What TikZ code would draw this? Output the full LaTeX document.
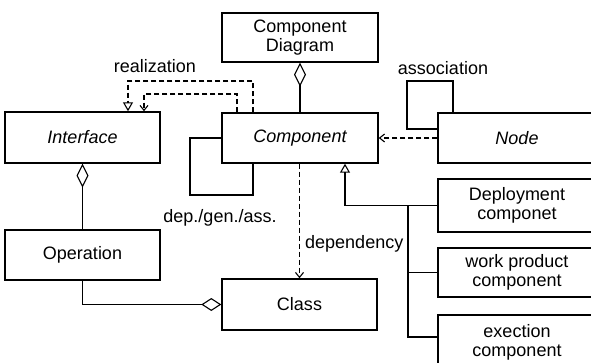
\documentclass[tikz,border=0pt]{standalone}
\usepackage{fontspec}
\setmainfont{Liberation Sans}
\usetikzlibrary{arrows.meta}
\tikzset{
  agg/.tip={Diamond[open,length=24pt,width=12pt,line width=1.1pt]},
  aggh/.tip={Diamond[open,length=20pt,width=13pt,line width=1.1pt]},
  gen/.tip={Triangle[open,length=9pt,width=10pt,line width=1.1pt]},
  barb/.tip={Straight Barb[length=5pt,width=8pt,line width=1.1pt]}
}
\begin{document}
\begin{tikzpicture}[x=1pt,y=-1pt,
  every node/.style={font=\fontsize{18}{19.5}\selectfont},
  box/.style={draw,line width=1.4pt,inner sep=0pt,align=center},
  conn/.style={line width=1.2pt},
  dep/.style={conn,dash pattern=on 5pt off 3pt},
  lbl/.style={inner sep=0pt}]
\clip (0,0) rectangle (591,363);

% classes
\node[box,minimum width=156pt,minimum height=49pt] (cd) at (300,37.5) {Component\\Diagram};
\node[box,minimum width=156pt,minimum height=50pt] (comp) at (300,138) {\itshape Component};
\node[box,minimum width=155pt,minimum height=51pt] (iface) at (82.5,137.5) {\itshape Interface};
\node[box,minimum width=155pt,minimum height=50pt] (oper) at (82.5,255) {Operation};
\node[box,minimum width=155pt,minimum height=51pt] (cls) at (299.5,304.5) {Class};
\node[box,minimum width=158pt,minimum height=50pt] (nd) at (517,138) {\itshape Node};
\node[box,minimum width=158pt,minimum height=53pt] (dp) at (517,205.5) {Deployment\\componet};
\node[box,minimum width=158pt,minimum height=49pt] (wp) at (517,272.5) {work product\\component};
\node[box,minimum width=158pt,minimum height=55pt] (ex) at (517,342.5) {exection\\component};

% aggregations
\draw[conn,agg-] (cd) -- (comp);
\draw[conn,agg-] (iface) -- (oper);
\draw[conn,-aggh] (oper.south) |- (cls.west);

% realization and dependency towards Interface
\draw[dep,-gen] (253,0 |- comp.north) -- (253,81) -- (128,81) -- (128,0 |- iface.north);
\draw[dep,-barb] (237,0 |- comp.north) -- (237,94) -- (144,94) -- (144,0 |- iface.north);
\node[lbl] (lreal) at (155,66) {realization};

% Node to Component
\draw[dep,-barb] (nd.west) -- (comp.east);
\draw[conn] (453,0 |- nd.north) -- (453,81) -- (407,81) -- (407,129) -- (nd.west |- 0,129);
\node[lbl] (lassoc) at (443,68) {association};

% Component self relation
\draw[conn] (comp.west) -- (190,138) -- (190,195) -- (253,195) -- (253,0 |- comp.south);
\node[lbl] (lself) at (220,218) {dep./gen./ass.};

% dependency Component -> Class
\draw[dep,-barb] (comp.south -| cls.north) -- (cls.north);
\node[lbl,anchor=west] (ldep) at (305,244) {dependency};

% generalization tree
\coordinate (trunk) at (408,0 |- dp.west);
\coordinate (exin) at (ex.west |- 0,337);
\draw[conn,gen-] (345,0 |- comp.south) |- (dp.west);
\draw[conn] (trunk) |- (wp.west);
\draw[conn] (trunk) |- (exin);
\end{tikzpicture}
\end{document}
